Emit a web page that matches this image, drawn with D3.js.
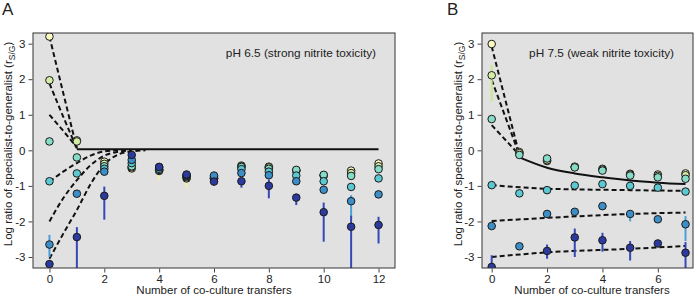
<!DOCTYPE html>
<html lang="en">
    <head>
        <script type="text/javascript" src="https://cdn.jsdelivr.net/npm/d3@7"></script>
        <title>Specialist vs generalist</title>
        <style type="text/css">
            body { margin: 0; background: #fff; }
            text { font-family: "Liberation Sans", Arial, sans-serif; fill: #222; }
        </style>
    </head>
    <body>
        <script type="text/javascript">
            var w = 695;
            var h = 296;

            // series colours, light -> dark (YlGnBu-ish)
            var colors = ["#fbf8c2", "#d4eea6", "#86dcc6", "#5cc8d2", "#3c8ec6", "#2b3a9c"];
            var errColors = ["#f3f0a6", "#c8e890", "#86dcc6", "#5cc8d2", "#4a9fd8", "#3448b8"];

            // ---- panel A data (pH 6.5) ----
            var transfersA = [0, 1, 2, 3, 4, 5, 6, 7, 8, 9, 10, 11, 12];
            var a1 = [3.2, 0.28, -0.32, -0.51, -0.58, -0.79, -0.8, -0.43, -0.46, -0.57, -0.7, -0.57, -0.37];
            var a2 = [1.97, 0.25, -0.38, -0.48, -0.56, -0.76, -0.8, -0.45, -0.48, -0.58, -0.71, -0.64, -0.45];
            var a3 = [0.25, -0.2, -0.45, -0.45, -0.55, -0.73, -0.78, -0.47, -0.52, -0.55, -0.69, -0.72, -0.53];
            var a4 = [-0.87, -0.65, -0.52, -0.36, -0.52, -0.72, -0.75, -0.53, -0.6, -0.71, -0.87, -1.03, -0.79];
            var a5 = [-2.65, -1.22, -0.6, -0.27, -0.47, -0.7, -0.71, -0.64, -0.7, -0.87, -1.11, -1.43, -1.24];
            var a6 = [-3.2, -2.44, -1.28, -0.13, -0.47, -0.68, -0.88, -0.87, -1.0, -1.33, -1.74, -2.15, -2.1];
            // error bars [upper, lower], null = none drawn
            var errA1 = [null, null, null, null, [-0.55, -0.84], [-0.75, -1.07], null, null, null, null, null, null, null];
            var errA5 = [[-2.38, -3.0], null, null, null, null, null, null, null, null, null, null, [-1.26, -1.87], null];
            var errA6 = [null, [-2.16, -3.5], [-1.02, -1.95], null, null, null, null, [-0.87, -1.05], [-0.82, -1.35], [-1.25, -1.54], [-1.47, -2.57], [-1.84, -3.5], [-1.87, -2.62]];
            // model fits
            var fitTA = [0, 0.5, 1, 1.5, 2, 2.5, 3, 3.5];
            var fitA1 = [3.2, 1.62, 0.05, null, null, null, null, null];
            var fitA2 = [1.88, 0.95, 0.05, null, null, null, null, null];
            var fitA3 = [1.0, 0.55, 0.08, null, null, null, null, null];
            var fitA4 = [-0.88, -0.6, -0.36, -0.15, -0.03, 0.0, null, null];
            var fitA5 = [-2.0, -1.35, -0.84, -0.42, -0.15, -0.04, 0.0, null];
            var fitA6 = [-3.05, -2.35, -1.68, -0.95, -0.4, -0.12, -0.03, 0.0];
            var solidTA = [1, 12];
            var solidA = [0.03, 0.03];

            // ---- panel B data (pH 7.5) ----
            var transfersB = [0, 1, 2, 3, 4, 5, 6, 7];
            var b1 = [2.99, -0.05, -0.3, -0.47, -0.52, -0.66, -0.68, -0.65];
            var b2 = [2.11, -0.08, -0.28, -0.46, -0.54, -0.68, -0.72, -0.7];
            var b3 = [0.88, -0.13, -0.23, -0.48, -0.57, -0.71, -0.76, -0.8];
            var b4 = [-0.98, -1.21, -1.12, -0.99, -0.95, -1.0, -1.05, -1.16];
            var b5 = [-2.13, -2.7, -1.79, -1.73, -1.57, -1.79, -1.94, -2.08];
            var b6 = [-3.28, null, -2.83, -2.45, -2.53, -2.74, -2.62, -2.88];
            var errB2 = [[2.4, 1.37], null, null, null, null, null, null, null];
            var errB5 = [null, null, null, null, null, [-1.79, -2.0], null, [-1.85, -2.55]];
            var errB6 = [[-2.95, -3.5], null, [-2.65, -3.05], [-2.2, -3.0], [-2.32, -2.85], [-2.55, -3.1], null, [-2.58, -3.5]];
            var fitTB = [0, 1];
            var fitB1 = [2.92, -0.13];
            var fitB2 = [1.98, -0.13];
            var fitB3 = [0.71, -0.13];
            var flatTB = [0, 2, 5, 7];
            var fitB4 = [-0.98, -1.08, -1.12, -1.14];
            var fitB5 = [-1.99, -1.9, -1.79, -1.75];
            var fitB6 = [-3.0, -2.87, -2.77, -2.69];
            var solidTB = [1, 2, 3, 4, 5, 6, 7];
            var solidB = [-0.2, -0.49, -0.65, -0.76, -0.85, -0.91, -0.95];

            var yTicks = [-3, -2, -1, 0, 1, 2, 3];

            var svg = d3.select("body")
                        .append("svg")
                        .attr("width", w)
                        .attr("height", h);

            function drawPanel(p) {
                var xScale = d3.scaleLinear().domain(p.xDomain).range([p.left, p.right]);
                var yScale = d3.scaleLinear().domain([-3.31, 3.3]).range([p.bottom, p.top]);
                var g = svg.append("g");

                g.append("rect")
                    .attr("x", p.left).attr("y", p.top)
                    .attr("width", p.right - p.left).attr("height", p.bottom - p.top)
                    .attr("fill", "#e1e1e1");

                var clipId = "clip" + p.id;
                g.append("clipPath").attr("id", clipId)
                    .append("rect")
                    .attr("x", p.left).attr("y", p.top)
                    .attr("width", p.right - p.left).attr("height", p.bottom - p.top);
                var inner = g.append("g").attr("clip-path", "url(#" + clipId + ")");

                // fit lines
                var line = d3.line()
                    .defined(function(d){ return d[1] !== null; })
                    .x(function(d){ return xScale(d[0]); })
                    .y(function(d){ return yScale(d[1]); })
                    .curve(d3.curveMonotoneX);

                p.fits.forEach(function(f){
                    inner.append("path")
                        .datum(f.t.map(function(t, i){ return [t, f.v[i]]; }))
                        .attr("d", line)
                        .attr("fill", "none")
                        .attr("stroke", "#111")
                        .attr("stroke-width", 2)
                        .attr("stroke-dasharray", f.dashed ? "5,3" : null);
                });

                // error bars
                p.series.forEach(function(s, si){
                    if (!s.err) return;
                    inner.selectAll(null)
                        .data(s.err.map(function(e, i){ return {t: p.t[i], e: e}; }).filter(function(d){ return d.e; }))
                        .enter()
                        .append("line")
                        .attr("x1", function(d){ return xScale(d.t); })
                        .attr("x2", function(d){ return xScale(d.t); })
                        .attr("y1", function(d){ return yScale(d.e[0]); })
                        .attr("y2", function(d){ return yScale(d.e[1]); })
                        .attr("stroke", errColors[si])
                        .attr("stroke-width", 2);
                });

                // points
                p.series.forEach(function(s, si){
                    inner.selectAll(null)
                        .data(s.v.map(function(v, i){ return {t: p.t[i], v: v}; }).filter(function(d){ return d.v !== null; }))
                        .enter()
                        .append("circle")
                        .attr("cx", function(d){ return xScale(d.t); })
                        .attr("cy", function(d){ return yScale(d.v); })
                        .attr("r", 3.8)
                        .attr("fill", colors[si])
                        .attr("stroke", "#1a1a1a")
                        .attr("stroke-width", 1);
                });

                // frame
                g.append("rect")
                    .attr("x", p.left).attr("y", p.top)
                    .attr("width", p.right - p.left).attr("height", p.bottom - p.top)
                    .attr("fill", "none")
                    .attr("stroke", "#333")
                    .attr("stroke-width", 1);

                var yAxis = d3.axisLeft(yScale).tickValues(yTicks).tickSize(4).tickPadding(3)
                                .tickFormat(function(d){ return d; });
                var ya = g.append("g").attr("transform", "translate(" + (p.left - 0.5) + ",0)").call(yAxis);
                var xAxis = d3.axisBottom(xScale).tickValues(p.xTicks).tickSize(4).tickPadding(2);
                var xa = g.append("g").attr("transform", "translate(0," + (p.bottom + 0.5) + ")").call(xAxis);
                [ya, xa].forEach(function(a){
                    a.select(".domain").remove();
                    a.selectAll("line").attr("stroke", "#444");
                    a.selectAll("text").attr("font-size", "11.5px").attr("fill", "#222")
                        .attr("font-family", "Liberation Sans, Arial, sans-serif");
                });

                // axis titles
                g.append("text")
                    .attr("x", p.xTitleX).attr("y", 294)
                    .attr("text-anchor", "middle")
                    .attr("font-size", "11.5px")
                    .text("Number of co-culture transfers");

                var yt = g.append("text")
                    .attr("transform", "translate(" + p.yTitleX + "," + 144 + ") rotate(-90)")
                    .attr("text-anchor", "middle")
                    .attr("font-size", "11.5px");
                yt.append("tspan").text("Log ratio of specialist-to-generalist (r");
                yt.append("tspan").attr("font-size", "8.5px").attr("dy", 2.5).text("S/G");
                yt.append("tspan").attr("dy", -2.5).text(")");

                g.append("text")
                    .attr("x", p.right - 19).attr("y", 57)
                    .attr("text-anchor", "end")
                    .attr("font-size", "11.8px")
                    .text(p.note);

                g.append("text")
                    .attr("x", p.letterX).attr("y", 15)
                    .attr("font-size", "17px")
                    .text(p.id);
            }

            drawPanel({
                id: "A", left: 33, right: 395, top: 33, bottom: 268,
                xDomain: [-0.6, 12.6], xTicks: [0, 2, 4, 6, 8, 10, 12],
                t: transfersA,
                series: [
                    {v: a1, err: errA1}, {v: a2}, {v: a3}, {v: a4},
                    {v: a5, err: errA5}, {v: a6, err: errA6}
                ],
                fits: [
                    {t: fitTA, v: fitA1, dashed: true}, {t: fitTA, v: fitA2, dashed: true},
                    {t: fitTA, v: fitA3, dashed: true}, {t: fitTA, v: fitA4, dashed: true},
                    {t: fitTA, v: fitA5, dashed: true}, {t: fitTA, v: fitA6, dashed: true},
                    {t: solidTA, v: solidA, dashed: false}
                ],
                xTitleX: 214, yTitleX: 12, letterX: 2,
                note: "pH 6.5 (strong nitrite toxicity)"
            });

            drawPanel({
                id: "B", left: 482, right: 693, top: 33, bottom: 268,
                xDomain: [-0.35, 7.27], xTicks: [0, 2, 4, 6],
                t: transfersB,
                series: [
                    {v: b1}, {v: b2, err: errB2}, {v: b3}, {v: b4},
                    {v: b5, err: errB5}, {v: b6, err: errB6}
                ],
                fits: [
                    {t: fitTB, v: fitB1, dashed: true}, {t: fitTB, v: fitB2, dashed: true},
                    {t: fitTB, v: fitB3, dashed: true}, {t: flatTB, v: fitB4, dashed: true},
                    {t: flatTB, v: fitB5, dashed: true}, {t: flatTB, v: fitB6, dashed: true},
                    {t: solidTB, v: solidB, dashed: false}
                ],
                xTitleX: 592, yTitleX: 462, letterX: 447,
                note: "pH 7.5 (weak nitrite toxicity)"
            });
        </script>
    </body>
</html>
